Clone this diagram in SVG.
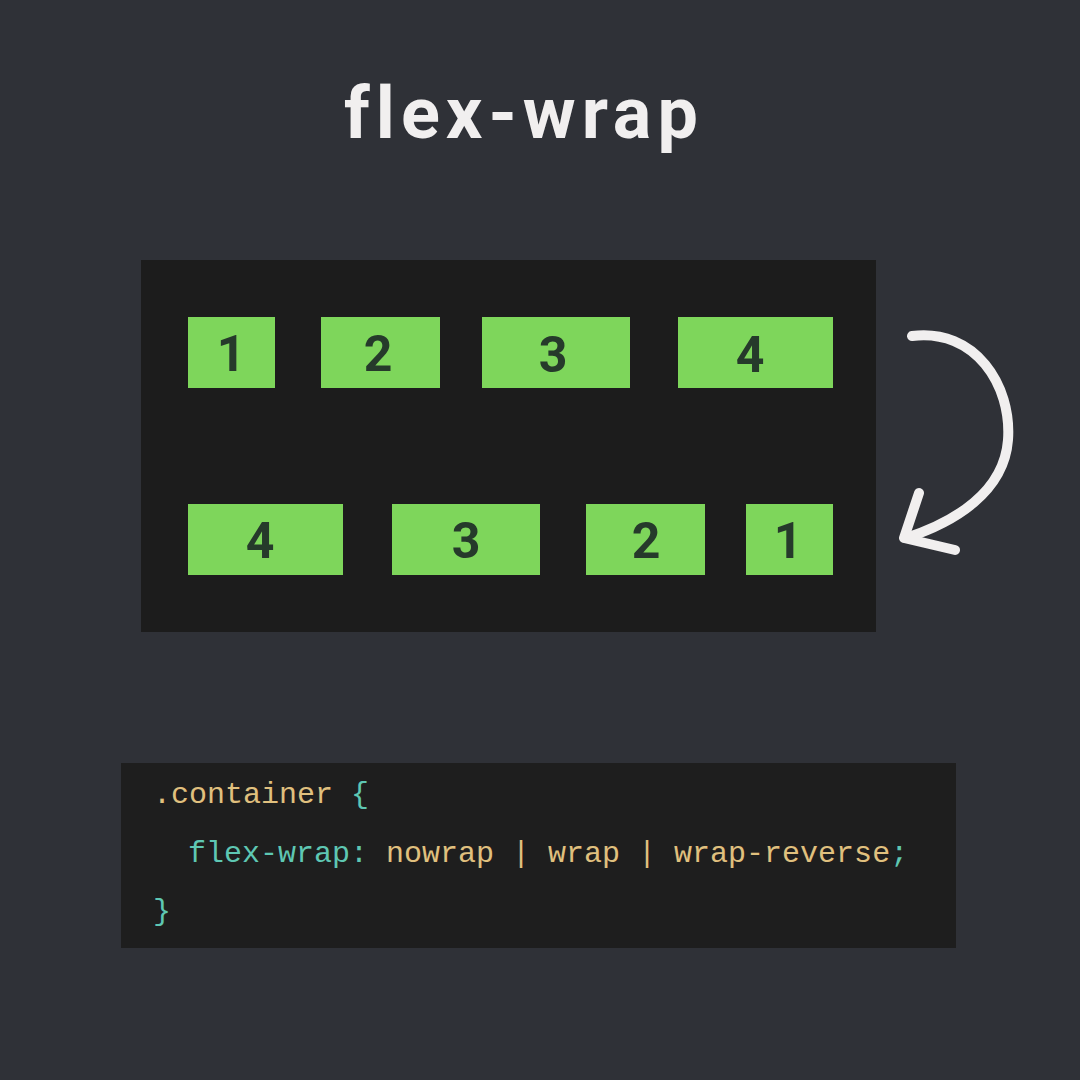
<svg xmlns="http://www.w3.org/2000/svg" width="1080" height="1080" viewBox="0 0 1080 1080">
<defs>
<style>
.bg{fill:#2f3137}
.panel{fill:#1c1c1c}
.box{fill:#7ed65b}
.num{font-family:Roboto,"Liberation Sans",sans-serif;font-weight:700;font-size:50px;fill:#263a2b;text-anchor:middle}
.title{font-family:Roboto,"Liberation Sans",sans-serif;font-weight:700;font-size:72px;fill:#f1efef;text-anchor:middle;letter-spacing:6px}
.code{font-family:"Liberation Mono","DejaVu Sans Mono",monospace;font-size:30px}
.y{fill:#e0c07e}
.t{fill:#5ec7b3}
.arrow{fill:none;stroke:#f1efef;stroke-width:10;stroke-linecap:round;stroke-linejoin:round}
</style>
</defs>
<rect class="bg" x="0" y="0" width="1080" height="1080"/>
<text class="title" x="524" y="138">flex-wrap</text>
<g id="container">
<rect class="panel" x="141" y="260" width="735" height="372"/>
</g>
<g id="row1-item1"><rect class="box" x="188" y="317" width="87" height="71"/><text class="num" x="231" y="371">1</text></g>
<g id="row1-item2"><rect class="box" x="321" y="317" width="119" height="71"/><text class="num" x="378" y="371">2</text></g>
<g id="row1-item3"><rect class="box" x="482" y="317" width="148" height="71"/><text class="num" x="553" y="372">3</text></g>
<g id="row1-item4"><rect class="box" x="678" y="317" width="155" height="71"/><text class="num" x="750" y="372">4</text></g>
<g id="row2-item4"><rect class="box" x="188" y="504" width="155" height="71"/><text class="num" x="260" y="558">4</text></g>
<g id="row2-item3"><rect class="box" x="392" y="504" width="148" height="71"/><text class="num" x="466" y="558">3</text></g>
<g id="row2-item2"><rect class="box" x="586" y="504" width="119" height="71"/><text class="num" x="646" y="558">2</text></g>
<g id="row2-item1"><rect class="box" x="746" y="504" width="87" height="71"/><text class="num" x="788" y="558">1</text></g>
<g id="connectors">
<path class="arrow" d="M912,336 C975,328 1012,385 1008,440 C1004,492 955,522 906,538"/>
<path class="arrow" d="M919,493 L904,538 L955,550"/>
</g>
<g id="code">
<rect class="panel" x="121" y="763" width="835" height="185" style="fill:#1e1e1e"/>
<text class="code" x="153" y="803"><tspan class="y">.container</tspan><tspan class="t"> {</tspan></text>
<text class="code" x="188" y="862"><tspan class="t">flex-wrap: </tspan><tspan class="y">nowrap | wrap | wrap-reverse</tspan><tspan class="t">;</tspan></text>
<text class="code t" x="153" y="920">}</text>
</g>
</svg>
